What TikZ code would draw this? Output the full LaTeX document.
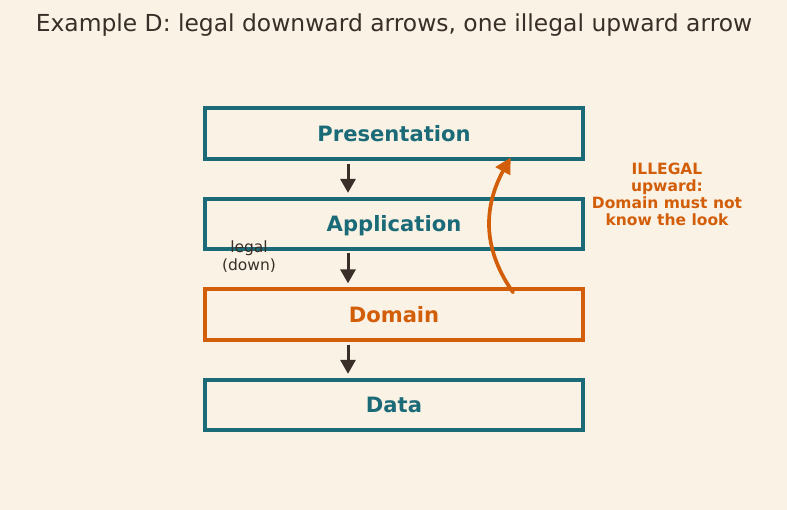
\documentclass[tikz,border=0pt]{standalone}
\usepackage{fontspec}
\setmainfont{DejaVu Sans}
\usetikzlibrary{arrows.meta,bending}
\definecolor{bg}{RGB}{250,242,228}
\definecolor{teal}{RGB}{27,106,120}
\definecolor{orng}{RGB}{210,94,10}
\definecolor{dark}{RGB}{58,46,40}
\tikzset{
  layer/.style={draw=teal,line width=3.8pt,minimum width=378pt,minimum height=50.5pt,inner sep=0pt,
    text height=15.4pt,text depth=0pt,
    text=teal,font=\fontsize{21.1}{24}\selectfont\bfseries},
  badlayer/.style={layer,draw=orng,text=orng},
  downarr/.style={draw=dark,line width=3pt,-{Triangle[length=14pt,width=15pt]}},
  badarr/.style={draw=orng,line width=3.7pt,line cap=round,-{Triangle[length=16pt,width=16pt,bend]}},
  smalltxt/.style={text=dark,font=\fontsize{15.5}{18}\selectfont,align=center},
  warntxt/.style={text=orng,font=\fontsize{15.5}{17}\selectfont\bfseries,align=center},
}
\begin{document}
\begin{tikzpicture}[x=1pt,y=-1pt]
\fill[bg] (0,0) rectangle (787,510);
\useasboundingbox (0,0) rectangle (787,510);
\node[text=dark,font=\fontsize{23.4}{28}\selectfont] (title) at (394,25) {Example D: legal downward arrows, one illegal upward arrow};
\node[layer] (pres) at (394,133.5) {Presentation};
\node[layer] (app) at (394,224) {Application};
\node[badlayer] (dom) at (394,314.5) {Domain};
\node[layer] (data) at (394,405) {Data};
\draw[downarr] ([shift={(-46pt,-3pt)}]pres.south) -- ([shift={(-46pt,4pt)}]app.north);
\draw[downarr] ([shift={(-46pt,-2pt)}]app.south) -- ([shift={(-46pt,4pt)}]dom.north);
\draw[downarr] ([shift={(-46pt,-3pt)}]dom.south) -- ([shift={(-46pt,4pt)}]data.north);
\node[smalltxt] (legal) at (249,257) {legal\\(down)};
\coordinate (bs) at ([shift={(119pt,-5pt)}]dom.north);
\coordinate (be) at ([shift={(117pt,3pt)}]pres.south);
\draw[badarr] (bs) .. controls (481.7,247.7) and (481,202.3) .. (be);
\node[warntxt] (warn) at (667,194) {ILLEGAL\\upward:\\Domain must not\\know the look};
\end{tikzpicture}
\end{document}
